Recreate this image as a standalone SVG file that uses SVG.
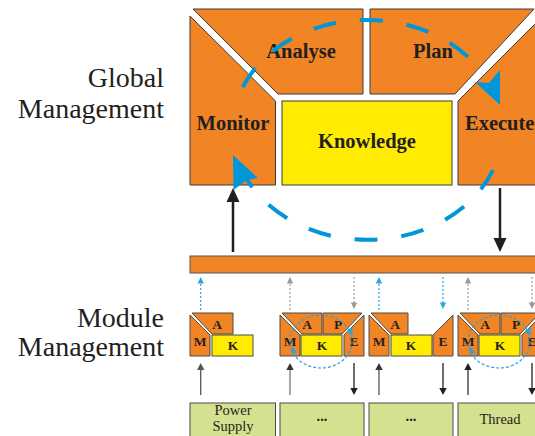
<svg xmlns="http://www.w3.org/2000/svg" width="535" height="436" viewBox="0 0 535 436">
<style>
.or{fill:#F18424;stroke:#3a3a3a;stroke-width:1}
.ye{fill:#FFEC00;stroke:#3a3a3a;stroke-width:1}
.sor{fill:#F18424;stroke:#4a4a4a;stroke-width:1}
.sye{fill:#FFEC00;stroke:#4a4a4a;stroke-width:1}
.gr{fill:#D5E18F;stroke:#4a4a4a;stroke-width:1}
.big{font-family:"Liberation Serif",serif;font-weight:bold;font-size:20.5px;fill:#231F20;text-anchor:middle}
.sm{font-family:"Liberation Serif",serif;font-weight:bold;font-size:13.5px;fill:#231F20;text-anchor:middle}
.lab{font-family:"Liberation Serif",serif;font-size:28px;fill:#231F20;text-anchor:end}
.box{font-family:"Liberation Serif",serif;font-size:14.5px;fill:#231F20;text-anchor:middle}
.bd{fill:none;stroke:#0096D8;stroke-width:4;stroke-dasharray:23 24}
.sd{fill:none;stroke:#2AA3DC;stroke-width:1.2;stroke-dasharray:3 2}
.bh{fill:#0096D8}
.sh{fill:#2AA3DC}
.blk{stroke:#231F20;stroke-width:2.5;fill:none}
.dotb{stroke:#2AA8E0;stroke-width:1.2;stroke-dasharray:2 2;fill:none}
.dotg{stroke:#9a9a9a;stroke-width:1.2;stroke-dasharray:2 2;fill:none}
</style>

<g id="labels">
<text class="lab" x="164" y="87">Global</text>
<text class="lab" x="164" y="118">Management</text>
<text class="lab" x="164" y="327">Module</text>
<text class="lab" x="164" y="356">Management</text>
</g>

<g id="global-monitor"><polygon class="or" points="190,16 275.5,101 275.5,185 190,185"/><text class="big" x="233" y="130">Monitor</text></g>
<g id="global-analyse"><polygon class="or" points="193,9 363,9 363,94 278,94"/><text class="big" x="301" y="58">Analyse</text></g>
<g id="global-plan"><polygon class="or" points="370,9 534,9 455,94 370,94"/><text class="big" x="433" y="58">Plan</text></g>
<g id="global-execute"><polygon class="or" points="458,101 542,17 542,185 458,185"/><text class="big" x="465" y="130" style="text-anchor:start">Execute</text></g>
<g id="global-knowledge"><rect class="ye" x="282" y="101" width="170" height="84"/><text class="big" x="367" y="148">Knowledge</text></g>

<g id="bus"><rect class="or" x="190" y="256" width="350" height="17" style="stroke:#555"/></g>

<g id="module1">
<polygon class="sor" points="190,315 210,335 210,356 190,356"/>
<polygon class="sor" points="192,313 233,313 233,334 212,334"/>
<rect class="sye" x="212" y="335" width="41" height="21"/>
<text class="sm" x="217" y="328.5">A</text><text class="sm" x="200" y="345.5">M</text><text class="sm" x="233" y="350">K</text>
</g>
<g id="module2">
<polygon class="sor" points="280,315 300,335 300,356 280,356"/>
<polygon class="sor" points="282,313 322,313 322,334 302,334"/>
<polygon class="sor" points="323,313 362,313 342,334 323,334"/>
<polygon class="sor" points="344,335 364,315 364,356 344,356"/>
<rect class="sye" x="301" y="335" width="41" height="21"/>
<text class="sm" x="307" y="328.5">A</text><text class="sm" x="338" y="328.5">P</text><text class="sm" x="290" y="345.5">M</text><text class="sm" x="322" y="350">K</text><text class="sm" x="354" y="345.5">E</text>
<ellipse class="sd" cx="321" cy="341.5" rx="31" ry="26.5"/>
<polygon class="sh" points="291.5,346 297,352.5 292,354.5"/>
<polygon class="sh" points="346.5,331 352.5,327 352.5,336"/>
</g>
<g id="module3">
<polygon class="sor" points="369,315 389,335 389,356 369,356"/>
<polygon class="sor" points="371,313 408,313 408,334 391,334"/>
<rect class="sye" x="391" y="335" width="41" height="21"/>
<polygon class="sor" points="433,335 453,315 453,356 433,356"/>
<text class="sm" x="395" y="328.5">A</text><text class="sm" x="379" y="345.5">M</text><text class="sm" x="411" y="350">K</text><text class="sm" x="443" y="345.5">E</text>
</g>
<g id="module4">
<polygon class="sor" points="458,315 478,335 478,356 458,356"/>
<polygon class="sor" points="460,313 500,313 500,334 480,334"/>
<polygon class="sor" points="501,313 540,313 520,334 501,334"/>
<polygon class="sor" points="522,335 542,315 542,356 522,356"/>
<rect class="sye" x="479" y="335" width="41" height="21"/>
<text class="sm" x="485" y="328.5">A</text><text class="sm" x="516" y="328.5">P</text><text class="sm" x="468" y="345.5">M</text><text class="sm" x="500" y="350">K</text><text class="sm" x="532" y="345.5">E</text>
<ellipse class="sd" cx="499" cy="341.5" rx="31" ry="26.5"/>
<polygon class="sh" points="469.5,346 475,352.5 470,354.5"/>
<polygon class="sh" points="524.5,331 530.5,327 530.5,336"/>
</g>

<g id="box-power"><rect class="gr" x="190" y="403" width="85.5" height="40"/><text class="box" x="233" y="415">Power</text><text class="box" x="233" y="431">Supply</text></g>
<g id="box-dots1"><rect class="gr" x="280" y="403" width="84" height="40"/><text class="box" x="322" y="421" style="font-weight:bold">...</text></g>
<g id="box-dots2"><rect class="gr" x="369" y="403" width="84" height="40"/><text class="box" x="411" y="421" style="font-weight:bold">...</text></g>
<g id="box-thread"><rect class="gr" x="458" y="403" width="84" height="40"/><text class="box" x="500" y="424">Thread</text></g>

<g id="connectors">
<path class="bd" d="M242.7,87 A135 110 0 0 1 484,75"/>
<polygon class="bh" points="500,105 475,82 489,83 500,70"/>
<path class="bd" d="M493,170 A135 110 0 0 1 246,178"/>
<polygon class="bh" points="233,155 258,178 247,180 233.5,190"/>
<line class="blk" x1="233" y1="252" x2="233" y2="199"/>
<polygon fill="#231F20" points="233,188 226.5,202 239.5,202"/>
<line class="blk" x1="500" y1="188" x2="500" y2="241"/>
<polygon fill="#231F20" points="500,252 493.5,238 506.5,238"/>

<line class="dotb" x1="200.7" y1="310" x2="200.7" y2="282"/><polygon fill="#2AA8E0" points="200.7,277 197.5,283.5 203.9,283.5"/>
<line class="dotg" x1="290" y1="310" x2="290" y2="282"/><polygon fill="#9a9a9a" points="290,277 286.8,283.5 293.2,283.5"/>
<line class="dotg" x1="354" y1="277" x2="354" y2="304"/><polygon fill="#9a9a9a" points="354,309 350.8,302.5 357.2,302.5"/>
<line class="dotb" x1="379" y1="310" x2="379" y2="282"/><polygon fill="#2AA8E0" points="379,277 375.8,283.5 382.2,283.5"/>
<line class="dotb" x1="443" y1="277" x2="443" y2="304"/><polygon fill="#2AA8E0" points="443,309 439.8,302.5 446.2,302.5"/>
<line class="dotg" x1="468" y1="310" x2="468" y2="282"/><polygon fill="#9a9a9a" points="468,277 464.8,283.5 471.2,283.5"/>
<line class="dotg" x1="532" y1="277" x2="532" y2="304"/><polygon fill="#9a9a9a" points="532,309 528.8,302.5 535.2,302.5"/>

<line x1="200.7" y1="395" x2="200.7" y2="368" stroke="#555" stroke-width="1.3"/><polygon fill="#555" points="200.7,363 197,370 204.4,370"/>
<line x1="290" y1="395" x2="290" y2="368" stroke="#777" stroke-width="1.3"/><polygon fill="#333" points="290,363 286.3,370 293.7,370"/>
<line x1="354" y1="363" x2="354" y2="390" stroke="#231F20" stroke-width="1.3"/><polygon fill="#231F20" points="354,395 350.3,388 357.7,388"/>
<line x1="379" y1="395" x2="379" y2="368" stroke="#555" stroke-width="1.3"/><polygon fill="#333" points="379,363 375.3,370 382.7,370"/>
<line x1="443" y1="363" x2="443" y2="390" stroke="#231F20" stroke-width="1.3"/><polygon fill="#231F20" points="443,395 439.3,388 446.7,388"/>
<line x1="468" y1="395" x2="468" y2="368" stroke="#333" stroke-width="1.3"/><polygon fill="#231F20" points="468,363 464.3,370 471.7,370"/>
<line x1="532" y1="363" x2="532" y2="390" stroke="#231F20" stroke-width="1.3"/><polygon fill="#231F20" points="532,395 528.3,388 535.7,388"/>
</g>
</svg>
